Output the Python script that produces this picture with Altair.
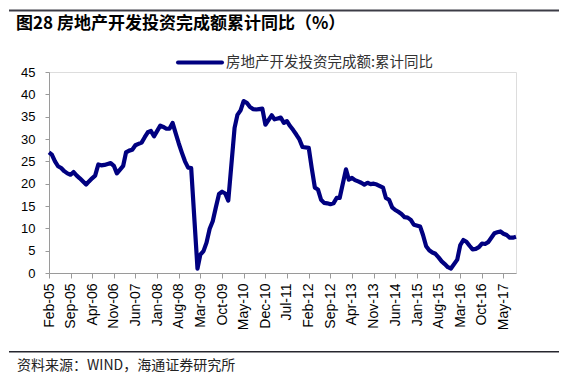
import altair as alt
import pandas as pd

series_name = "房地产开发投资完成额:累计同比"
title_text = "图28 房地产开发投资完成额累计同比（%）"
source_text = "资料来源：WIND，海通证券研究所"

# monthly YTD yoy (%), Feb..Dec of each year (January not published)
v2005 = [27.0, 26.5, 25.0, 23.9, 23.5, 22.8, 22.3, 22.0, 22.6, 21.8, 21.2]
v2006 = [19.8, 20.5, 21.2, 21.8, 24.3, 24.1, 24.2, 24.4, 24.6, 24.0, 22.3]
v2007 = [24.0, 27.0, 27.4, 27.6, 28.6, 28.9, 29.2, 30.4, 31.5, 31.8, 30.6]
v2008 = [33.0, 32.7, 32.3, 32.3, 33.6, 31.3, 29.0, 26.9, 25.0, 23.6, 23.5]
v2009 = [1.0, 4.1, 4.9, 6.8, 9.9, 11.6, 14.7, 17.7, 18.2, 17.8, 16.2]
v2010 = [32.5, 35.4, 36.4, 38.5, 38.1, 37.2, 36.7, 36.6, 36.7, 36.8, 33.2]
v2011 = [35.3, 34.4, 34.6, 34.8, 33.6, 34.0, 32.9, 32.0, 31.0, 29.9, 28.2]
v2012 = [28.0, 23.5, 19.1, 18.7, 16.4, 15.7, 15.6, 15.4, 15.6, 16.8, 16.8]
v2013 = [23.2, 20.9, 21.3, 20.8, 20.5, 20.2, 19.8, 20.2, 19.9, 20.0, 19.8]
v2014 = [19.1, 16.8, 16.4, 14.7, 14.1, 13.7, 13.2, 12.5, 12.4, 11.9, 10.8]
v2015 = [10.4, 8.5, 6.0, 5.1, 4.6, 4.3, 3.5, 2.6, 2.0, 1.3, 1.0]
v2016 = [3.0, 6.2, 7.4, 7.0, 6.1, 5.3, 5.4, 5.8, 6.6, 6.5, 6.9]
v2017 = [8.9, 9.1, 9.3, 8.8, 8.5, 7.9, 7.9, 8.1]

by_year = {2005: v2005, 2006: v2006, 2007: v2007, 2008: v2008, 2009: v2009,
           2010: v2010, 2011: v2011, 2012: v2012, 2013: v2013, 2014: v2014,
           2015: v2015, 2016: v2016, 2017: v2017}

rows = []
for yr, vals in by_year.items():
    for i, v in enumerate(vals):
        rows.append({"date": f"{yr}-{i + 2:02d}-01", "value": v})
df = pd.DataFrame(rows)

# axis tick months (every 7 months from Feb-05)
tick_months = [(2005, 2), (2005, 9), (2006, 4), (2006, 11), (2007, 6), (2008, 1),
               (2008, 8), (2009, 3), (2009, 10), (2010, 5), (2010, 12), (2011, 7),
               (2012, 2), (2012, 9), (2013, 4), (2013, 11), (2014, 6), (2015, 1),
               (2015, 8), (2016, 3), (2016, 10), (2017, 5)]
tick_values = [alt.DateTime(year=y, month=m, date=1, utc=True) for y, m in tick_months]

NAVY = "#000080"
CJK = "Noto Sans CJK SC"
LAT = "Liberation Sans"
AXC = "#9a9a9a"

line = alt.Chart(df).mark_line(color=NAVY, strokeWidth=4.2, strokeJoin="round").encode(
    x=alt.X("date:T",
            scale=alt.Scale(type="utc",
                            domain=[alt.DateTime(year=2005, month=2, date=1, utc=True),
                                    alt.DateTime(year=2017, month=9, date=1, utc=True)]),
            axis=alt.Axis(values=tick_values, labelExpr="utcFormat(datum.value, '%b-%y')",
                          labelAngle=270, labelFont=LAT, labelFontSize=14, labelColor="#000",
                          tickSize=5, tickColor=AXC, domainColor=AXC, labelPadding=5,
                          grid=False, title=None, labelOverlap=False, labelBound=False,
                          labelFlush=False)),
    y=alt.Y("value:Q", scale=alt.Scale(domain=[0, 45], nice=False),
            axis=alt.Axis(values=list(range(0, 50, 5)), labelFont=LAT, labelFontSize=13,
                          labelColor="#000", tickSize=4, tickColor=AXC, domainColor=AXC,
                          labelPadding=10, grid=False, title=None))
)

one = pd.DataFrame({"k": [0]})

legend_rule = alt.Chart(one).mark_rule(color=NAVY, strokeWidth=4, strokeCap="round").encode(
    x=alt.value(129), x2=alt.value(173), y=alt.value(-9.5))
legend_text = alt.Chart(one).mark_text(align="left", baseline="middle", font=CJK,
                                       fontSize=14.5, color="#333").encode(
    x=alt.value(177), y=alt.value(-9.5), text=alt.value(series_name))

title = alt.Chart(one).mark_text(align="left", baseline="middle", font=CJK, fontSize=17,
                                 fontWeight="bold", color="#000").encode(
    x=alt.value(-33), y=alt.value(-48), text=alt.value(title_text))

top_rule = alt.Chart(one).mark_rect(fill="#3c3c46", stroke=None).encode(
    x=alt.value(-40), x2=alt.value(510), y=alt.value(-62.5), y2=alt.value(-60.5))
foot_rule = alt.Chart(one).mark_rect(fill="#26262e", stroke=None).encode(
    x=alt.value(-40), x2=alt.value(510), y=alt.value(279), y2=alt.value(280.6))

foot_text = alt.Chart(one).mark_text(align="left", baseline="middle", font=CJK, fontSize=14,
                                     color="#222").encode(
    x=alt.value(-32), y=alt.value(294), text=alt.value(source_text))

chart = alt.layer(line, legend_rule, legend_text, title, top_rule, foot_rule, foot_text).properties(
    width=467, height=201,
    padding={"left": 41, "top": 64, "right": 44, "bottom": 101},
    autosize=alt.AutoSizeParams(type="none"),
).configure_view(stroke=None).configure(background="white")

chart.save("out.html", embed_options={"renderer": "svg", "actions": False})
